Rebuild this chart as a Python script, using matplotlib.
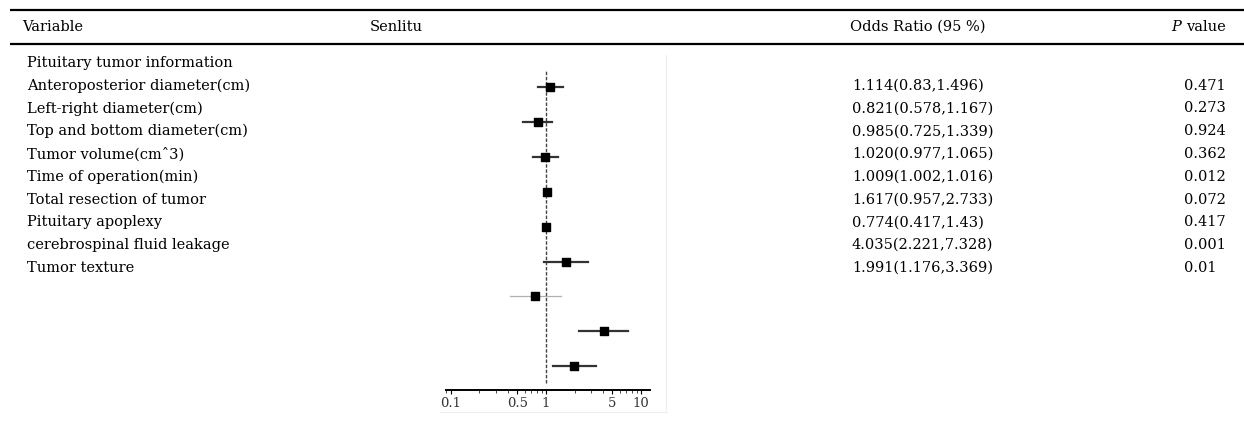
import matplotlib
matplotlib.use("Agg")
import matplotlib.pyplot as plt
import numpy as np

# table data
variables = [
    "Pituitary tumor information",
    "Anteroposterior diameter(cm)",
    "Left-right diameter(cm)",
    "Top and bottom diameter(cm)",
    "Tumor volume(cm\u02c63)",
    "Time of operation(min)",
    "Total resection of tumor",
    "Pituitary apoplexy",
    "cerebrospinal fluid leakage",
    "Tumor texture",
]
odds = [1.114, 0.821, 0.985, 1.020, 1.009, 1.617, 0.774, 4.035, 1.991]
ci_low = [0.83, 0.578, 0.725, 0.977, 1.002, 0.957, 0.417, 2.221, 1.176]
ci_high = [1.496, 1.167, 1.339, 1.065, 1.016, 2.733, 1.43, 7.328, 3.369]
or_text = ["1.114(0.83,1.496)", "0.821(0.578,1.167)", "0.985(0.725,1.339)",
           "1.020(0.977,1.065)", "1.009(1.002,1.016)", "1.617(0.957,2.733)",
           "0.774(0.417,1.43)", "4.035(2.221,7.328)", "1.991(1.176,3.369)"]
p_values = ["0.471", "0.273", "0.924", "0.362", "0.012", "0.072", "0.417", "0.001", "0.01"]
x_ticks = [0.1, 0.5, 1, 5, 10]
x_tick_labels = ["0.1", "0.5", "1", "5", "10"]

W, H = 1244, 433
FONT = "DejaVu Serif"
FS = 10.5

fig = plt.figure(figsize=(W / 100, H / 100), dpi=100)
fig.patch.set_facecolor("white")

# background axes in pixel coordinates for the table
bg = fig.add_axes([0, 0, 1, 1])
bg.set_xlim(0, W)
bg.set_ylim(H, 0)
bg.axis("off")

bg.hlines([10, 44], 10, W, color="black", lw=1.6)

hy = 27
bg.text(22, hy, "Variable", fontsize=FS, family=FONT, va="center", ha="left")
bg.text(370, hy, "Senlitu", fontsize=FS, family=FONT, va="center", ha="left")
bg.text(850, hy, "Odds Ratio (95 %)", fontsize=FS, family=FONT, va="center", ha="left")
val = bg.text(1226, hy, "value", fontsize=FS, family=FONT, va="center", ha="right")
renderer = fig.canvas.get_renderer()
val_w = val.get_window_extent(renderer).width
bg.text(1226 - val_w - 5, hy, "P", fontsize=FS, family=FONT, style="italic",
        va="center", ha="right")

row0 = 63
dy = 22.75
for i, name in enumerate(variables):
    bg.text(27, row0 + i * dy, name, fontsize=FS, family=FONT, va="center", ha="left")
for i, (t, p) in enumerate(zip(or_text, p_values)):
    y = row0 + (i + 1) * dy
    bg.text(852, y, t, fontsize=FS, family=FONT, va="center", ha="left")
    bg.text(1184, y, p, fontsize=FS, family=FONT, va="center", ha="left")

# faint border of the pasted forest plot image
bg.plot([666, 666], [55, 412], color="#eeeeee", lw=0.8)
bg.plot([440, 666], [412, 412], color="#eeeeee", lw=0.8)

# forest plot
ax_left, ax_right, ax_bottom, ax_top = 446, 650, 390, 70
ax = fig.add_axes([ax_left / W, (H - ax_bottom) / H,
                   (ax_right - ax_left) / W, (ax_bottom - ax_top) / H])
ax.set_xscale("log")
ax.set_xlim(0.089, 12.4)
step = 34.9
ax.set_ylim((ax_bottom - 87) / step, (ax_top - 87) / step)

ys = np.arange(len(odds))
for i in range(len(odds)):
    if i == 6:
        col, lw = "#b0b0b0", 0.9
    else:
        col, lw = "#333333", 1.6
    ax.plot([ci_low[i], ci_high[i]], [ys[i], ys[i]], color=col, lw=lw, zorder=2)
ax.scatter(odds, ys, marker="s", s=26, color="black", zorder=3)

ax.axvline(1, ymin=0.022, ymax=1, color="#444444", lw=1.0, ls=(0, (2.5, 1.2)), zorder=1)

for s in ["top", "right", "left"]:
    ax.spines[s].set_visible(False)
ax.spines["bottom"].set_linewidth(1.4)
ax.set_yticks([])
ax.set_xticks(x_ticks)
ax.set_xticklabels(x_tick_labels, family=FONT, fontsize=9.5, color="#333333")
ax.tick_params(axis="x", which="major", length=3, width=0.8, pad=2)
ax.tick_params(axis="x", which="minor", length=2, width=0.5)
ax.patch.set_alpha(0)

fig.savefig("out.png", dpi=100)
